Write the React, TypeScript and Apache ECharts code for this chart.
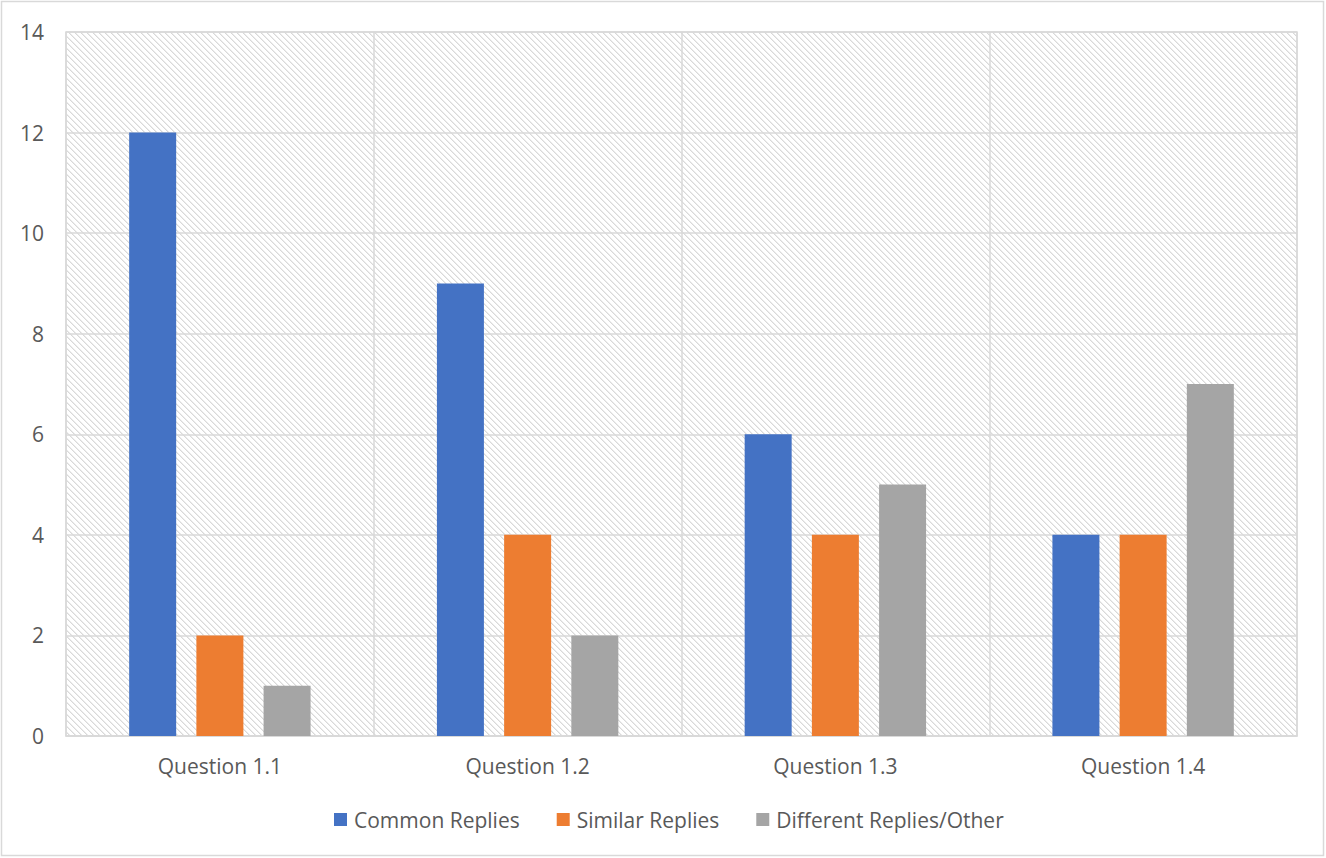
import React, { useEffect, useRef } from "react";
import * as echarts from "echarts";

const categories = ["Question 1.1", "Question 1.2", "Question 1.3", "Question 1.4"];
const commonReplies = [12, 9, 6, 4];
const similarReplies = [2, 4, 4, 4];
const differentReplies = [1, 2, 5, 7];
const seriesNames = ["Common Replies", "Similar Replies", "Different Replies/Other"];
const seriesColors = ["#4472C4", "#ED7D31", "#A5A5A5"];

function makeHatch(): string {
  const size = 6;
  const c = document.createElement("canvas");
  c.width = size;
  c.height = size;
  const ctx = c.getContext("2d")!;
  ctx.fillStyle = "#ffffff";
  ctx.fillRect(0, 0, size, size);
  for (let i = 0; i < size; i++) {
    ctx.fillStyle = "#d9d9d9";
    ctx.fillRect(i, i, 1, 1);
    ctx.fillStyle = "#ececec";
    ctx.fillRect((i + 1) % size, i, 1, 1);
  }
  return c.toDataURL();
}

export default function App() {
  const ref = useRef<HTMLDivElement>(null);
  useEffect(() => {
    document.body.style.margin = "0";
    const chart = echarts.init(ref.current!, null, { renderer: "svg" });
    const font = "'Open Sans', sans-serif";
    const textColor = "#595959";
    const hatch = makeHatch();
    const data = [commonReplies, similarReplies, differentReplies];
    chart.setOption({
      animation: false,
      backgroundColor: "#ffffff",
      textStyle: { fontFamily: font },
      graphic: [
        {
          type: "rect",
          shape: { x: 1.5, y: 1.5, width: 1322, height: 854 },
          style: { fill: "none", stroke: "#d9d9d9", lineWidth: 1.5 },
          z: -10,
        },
      ],
      grid: {
        left: 66,
        right: 29,
        top: 32,
        bottom: 122,
        show: true,
        borderColor: "#d9d9d9",
        borderWidth: 1.5,
        backgroundColor: {
          image: hatch,
          repeat: "repeat",
          imageWidth: 6,
          imageHeight: 6,
        },
      },
      legend: {
        data: seriesNames,
        left: 329,
        top: 804,
        itemWidth: 13,
        itemHeight: 13,
        itemGap: 37,
        icon: "rect",
        textStyle: { fontFamily: font, fontSize: 21, color: textColor, padding: [0, 0, 0, 2] },
      },
      xAxis: {
        type: "category",
        data: categories,
        axisLine: { show: true, lineStyle: { color: "#d9d9d9", width: 1.5 } },
        axisTick: { show: false },
        splitLine: { show: true, lineStyle: { color: "#d9d9d9", width: 1.5 } },
        axisLabel: { fontFamily: font, fontSize: 21, color: textColor, margin: 19 },
      },
      yAxis: {
        type: "value",
        min: 0,
        max: 14,
        interval: 2,
        axisLine: { show: false },
        axisTick: { show: false },
        splitLine: { show: true, lineStyle: { color: "#d9d9d9", width: 1.5 } },
        axisLabel: { fontFamily: font, fontSize: 21, color: textColor, margin: 22 },
      },
      series: seriesNames.map((name, i) => ({
        name,
        type: "bar",
        data: data[i],
        barWidth: 47,
        barGap: "43%",
        itemStyle: { color: seriesColors[i] },
      })),
    });
    return () => chart.dispose();
  }, []);
  return <div ref={ref} style={{ width: 1326, height: 858 }} />;
}
